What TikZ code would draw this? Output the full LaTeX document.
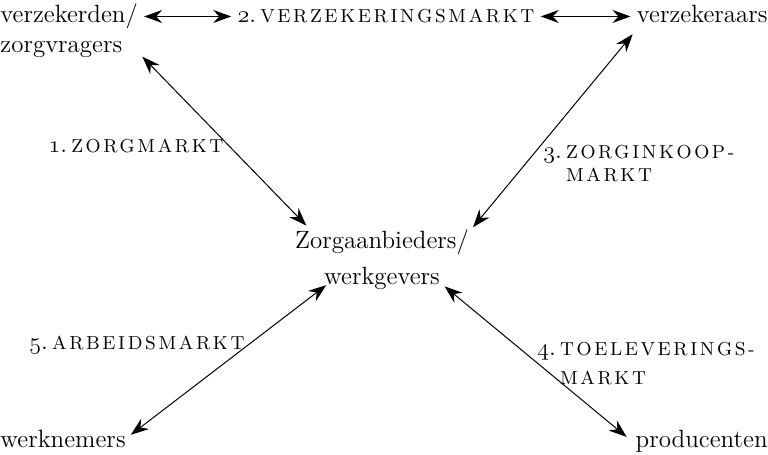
\documentclass[tikz,border=0pt]{standalone}
\usepackage{fontspec}
\usetikzlibrary{arrows.meta}
\newfontfamily\mktfont[LetterSpace=14]{Latin Modern Roman}
\newcommand{\osnum}[1]{$\mathnormal{#1}$}
\newcommand{\mktnum}[1]{{\fontsize{12.5}{15}\selectfont\osnum{#1}.\,}}
\newcommand{\mktname}[1]{{\mktfont\fontsize{9.4}{14}\selectfont #1}}
\begin{document}
\begin{tikzpicture}[x=0.5pt, y=-0.5pt,
    actor/.style={font=\fontsize{12.5}{15}\selectfont, inner sep=0pt},
    market/.style={inner sep=0pt, align=left},
    dbl/.style={{Stealth[length=9pt,width=6.5pt,inset=3pt]}-{Stealth[length=9pt,width=6.5pt,inset=3pt]},
        line width=0.5pt, shorten <=3pt, shorten >=3pt}]
    \useasboundingbox (0,0) rectangle (768,455);
    \node[actor, align=left, anchor=base west] (vz) at (0,53) {verzekerden/\\zorgvragers};
    \node[actor, anchor=base east] (vk) at (768,23) {verzekeraars};
    \node[actor, align=center, anchor=base] (za) at (382,285) {Zorgaanbieders/\\[3pt]werkgevers};
    \node[actor, anchor=base west] (wn) at (0,447) {werknemers};
    \node[actor, anchor=base east] (pr) at (768,447) {producenten};
    \node[market, anchor=base] (m2) at (386,23) {\mktnum{2}\mktname{VERZEKERINGSMARKT}};
    \node[market, anchor=base] (m1) at (136,153) {\mktnum{1}\mktname{ZORGMARKT}};
    \node[market, anchor=base west] (m3) at (543,182)
        {\mktnum{3}\mktname{ZORGINKOOP-}\\\phantom{\mktnum{3}}\mktname{MARKT}};
    \node[market, anchor=base] (m5) at (137,350) {\mktnum{5}\mktname{ARBEIDSMARKT}};
    \node[market, anchor=base west] (m4) at (537,385)
        {\mktnum{4}\mktname{TOELEVERINGS-}\\[3pt]\phantom{\mktnum{4}}\mktname{MARKT}};
    \draw[dbl] (vz.east |- m2.west) -- (m2.west);
    \draw[dbl] (m2.east) -- (vk.west |- m2.east);
    \draw[dbl] (vz.-17) -- (za.157);
    \draw[dbl] ([yshift=-3pt]vk.south west) -- (za.18);
    \draw[dbl] (wn.east) -- ([xshift=-25.5pt, yshift=4.5pt]za.south);
    \draw[dbl] ([xshift=-2pt]pr.west) -- ([xshift=29pt, yshift=4pt]za.south);
\end{tikzpicture}
\end{document}
